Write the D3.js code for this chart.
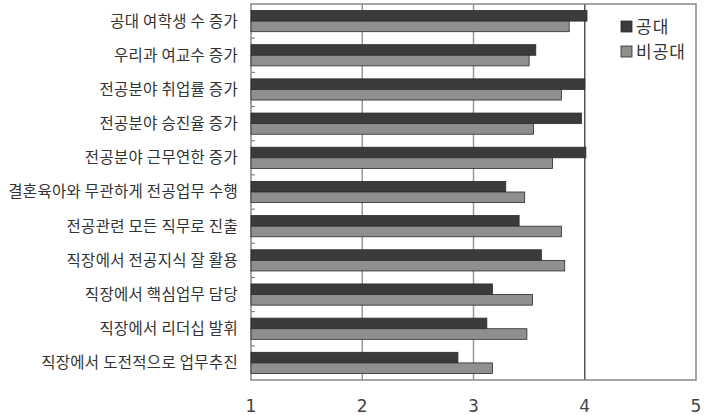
<!DOCTYPE html>
<html>
<head>
<meta charset="utf-8">
<script src="https://cdn.jsdelivr.net/npm/d3@7"></script>
<style>
  body { margin: 0; background: #fff; }
  svg { display: block; }
  text { font-family: "Noto Sans CJK KR", "Noto Sans", sans-serif; }
</style>
</head>
<body>
<svg id="chart" width="707" height="415"></svg>
<script>
// categories top -> bottom
const categories = [
    "공대 여학생 수 증가",
    "우리과 여교수 증가",
    "전공분야 취업률 증가",
    "전공분야 승진율 증가",
    "전공분야 근무연한 증가",
    "결혼육아와 무관하게 전공업무 수행",
    "전공관련 모든 직무로 진출",
    "직장에서 전공지식 잘 활용",
    "직장에서 핵심업무 담당",
    "직장에서 리더십 발휘",
    "직장에서 도전적으로 업무추진"
]
const seriesNames = ["공대", "비공대"]
const engValues = [4.02, 3.56, 4.00, 3.97, 4.01, 3.29, 3.41, 3.61, 3.17, 3.12, 2.86]
const nonEngValues = [3.86, 3.50, 3.79, 3.54, 3.71, 3.46, 3.79, 3.82, 3.53, 3.48, 3.17]
const xTicks = [1, 2, 3, 4, 5]

const fills = ["#3b3b3b", "#8f8f8f"]

let svg = d3.select("#chart")
let x0 = 251, x1 = 696
let y0 = 4, y1 = 380

let x = d3.scaleLinear().domain([1, 5]).range([x0, x1])
let y = d3.scaleBand().domain(categories).range([y0, y1]).paddingInner(0.38).paddingOuter(0.19)
let ySub = d3.scaleBand().domain(seriesNames).range([0, y.bandwidth()])
let yOuter = d3.scaleBand().domain(categories).range([y0, y1])

// gridlines
svg.append("g").selectAll("line").data([2, 3, 4]).enter().append("line")
    .attr("x1", d => x(d)).attr("x2", d => x(d))
    .attr("y1", y0).attr("y2", y1)
    .attr("stroke", d => d === 4 ? "#555" : "#999")
    .attr("stroke-width", 1.5)

// frame
svg.append("rect")
    .attr("x", x0).attr("y", y0)
    .attr("width", x1 - x0).attr("height", y1 - y0)
    .attr("fill", "none").attr("stroke", "#888").attr("stroke-width", 1.5)

// small ticks on the category axis
svg.append("g").selectAll("line").data(categories.slice(1)).enter().append("line")
    .attr("x1", x0).attr("x2", x0 + 4)
    .attr("y1", d => yOuter(d)).attr("y2", d => yOuter(d))
    .attr("stroke", "#777").attr("stroke-width", 1)

// bars
let rows = categories.map((c, i) => ({cat: c, vals: [engValues[i], nonEngValues[i]]}))
let rowGrp = svg.append("g").selectAll("g").data(rows).enter().append("g")
    .attr("transform", d => "translate(0," + y(d.cat) + ")")
rowGrp.selectAll("rect").data(d => d.vals.map((v, k) => ({v: v, s: seriesNames[k], k: k}))).enter().append("rect")
    .attr("x", x0)
    .attr("y", d => ySub(d.s))
    .attr("width", d => x(d.v) - x0)
    .attr("height", ySub.bandwidth())
    .attr("fill", d => fills[d.k])
    .attr("stroke", "#2a2a2a").attr("stroke-width", 0.8)

// category labels
svg.append("g").selectAll("text").data(categories).enter().append("text")
    .attr("x", 238)
    .attr("y", d => yOuter(d) + yOuter.bandwidth() / 2)
    .attr("dy", "0.35em")
    .attr("text-anchor", "end")
    .attr("font-size", 15.5)
    .attr("letter-spacing", 0.3)
    .attr("fill", "#333")
    .text(d => d)

// x tick labels
svg.append("g").selectAll("text").data(xTicks).enter().append("text")
    .attr("x", d => x(d))
    .attr("y", 406)
    .attr("dy", "0.35em")
    .attr("text-anchor", "middle")
    .attr("font-size", 17)
    .attr("fill", "#444")
    .style("font-family", "'DejaVu Sans', sans-serif")
    .text(d => d)

// legend
let leg = svg.append("g").attr("transform", "translate(621,21)")
let legItems = leg.selectAll("g").data(seriesNames).enter().append("g")
    .attr("transform", (d, i) => "translate(0," + i * 25 + ")")
legItems.append("rect")
    .attr("width", 11).attr("height", 11)
    .attr("fill", (d, i) => fills[i])
    .attr("stroke", "#2a2a2a").attr("stroke-width", 0.8)
legItems.append("text")
    .attr("x", 15).attr("y", 6)
    .attr("dy", "0.35em")
    .attr("font-size", 17)
    .attr("letter-spacing", 1)
    .attr("fill", "#333")
    .text(d => d)
</script>
</body>
</html>
